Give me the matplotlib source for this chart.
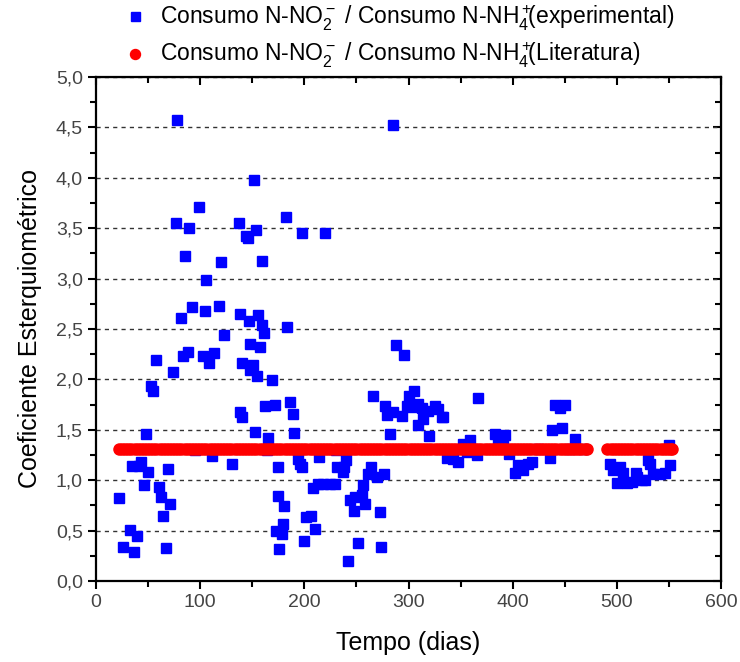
import matplotlib
matplotlib.use("Agg")
import matplotlib.pyplot as plt
from matplotlib.ticker import MultipleLocator, FuncFormatter

plt.rcParams['font.family'] = ['Liberation Sans', 'DejaVu Sans']
plt.rcParams['mathtext.fontset'] = 'custom'
plt.rcParams['mathtext.rm'] = 'Liberation Sans'
plt.rcParams['mathtext.it'] = 'Liberation Sans:italic'
plt.rcParams['mathtext.bf'] = 'Liberation Sans:bold'
plt.rcParams['mathtext.default'] = 'regular'

# Experimental stoichiometric coefficient (day, value)
dias_exp = [22.4, 32.6, 39, 25.6, 36, 67, 64.6, 71, 62.4, 60.5, 46, 50.2, 34.8, 42.9, 41, 69.1,
            48, 52.8, 55, 57.3, 74.2, 83.2, 88.6, 102.4, 108.8, 113.3, 123.2, 139.9, 148, 151,
            147.8, 154.2, 138.2, 140.5, 152.6, 95, 111, 130.8,
            78, 151.7, 98.9, 76.5, 89.6, 137, 144, 146, 153.3, 85.4, 120.3, 105.6, 92.5, 81.3,
            104.3, 117.8, 138, 146.9, 155.8, 159,
            285.4, 182, 197.4, 220.2, 159, 183.2,
            161.3, 157.8, 168.6, 162.2, 171.8, 186.2, 188.8, 165.4, 190, 266.2, 288, 295.7,
            277.4, 279, 285.4, 293.4, 300.8, 305.3, 298.2, 303, 309.4, 312.6, 314.2, 309.4,
            318.9, 325.4, 328.6, 331.9, 282.2, 319.7, 336.7, 163.8, 175, 194.2, 195.8, 197.5,
            214, 230.4, 240, 231.6, 236.8, 238, 208, 213.4, 218.2, 224.6, 229.4, 256.6, 261.4,
            263.7, 269.5, 276.8, 174.4, 180.5, 201.6, 206.4, 179.2, 172.8, 178.9, 210.2, 199.7,
            176, 241.6, 251.8, 273.6, 244, 248.6, 255, 258.2, 247.7, 272.6,
            367, 333.4, 343, 347.8, 352.6, 359, 355.8, 365.4, 383, 386.2, 392.6, 391, 396.5,
            402.2, 405.4, 410.2, 415, 418.3, 424.6, 435.8, 437.5, 447.7, 440.6, 445.4, 450.2,
            459.8, 467.8, 454.9,
            493.4, 496.6, 503, 499.9, 506.2, 509.5, 514.3, 519.1, 523.9, 530.3, 531.9, 535.1,
            541.4, 546.2, 551, 550.4, 518, 527]
coef_exp = [0.82, 0.51, 0.45, 0.34, 0.29, 0.33, 0.64, 0.76, 0.83, 0.93, 0.95, 1.08, 1.14, 1.18, 1.14, 1.11,
            1.46, 1.93, 1.88, 2.19, 2.07, 2.23, 2.27, 2.23, 2.16, 2.26, 2.44, 2.16, 2.35, 2.14,
            2.09, 2.03, 1.68, 1.63, 1.48, 1.30, 1.24, 1.16,
            4.57, 3.98, 3.71, 3.55, 3.50, 3.55, 3.42, 3.40, 3.48, 3.22, 3.16, 2.99, 2.72, 2.61,
            2.68, 2.73, 2.65, 2.58, 2.64, 3.17,
            4.52, 3.61, 3.45, 3.45, 2.54, 2.52,
            2.46, 2.32, 1.99, 1.74, 1.75, 1.78, 1.66, 1.42, 1.47, 1.84, 2.34, 2.24,
            1.74, 1.65, 1.68, 1.64, 1.84, 1.88, 1.74, 1.73, 1.76, 1.72, 1.61, 1.55,
            1.69, 1.74, 1.71, 1.63, 1.46, 1.44, 1.22, 1.30, 1.13, 1.21, 1.16, 1.13,
            1.23, 1.30, 1.20, 1.13, 1.08, 1.13, 0.92, 0.96, 0.96, 0.96, 0.96, 0.95, 1.06,
            1.13, 1.03, 1.06, 0.84, 0.74, 0.63, 0.64, 0.57, 0.50, 0.47, 0.52, 0.40,
            0.32, 0.20, 0.38, 0.34, 0.80, 0.83, 0.85, 0.76, 0.69, 0.68,
            1.82, 1.63, 1.21, 1.18, 1.36, 1.40, 1.28, 1.25, 1.46, 1.41, 1.45, 1.37, 1.26,
            1.07, 1.15, 1.10, 1.16, 1.18, 1.31, 1.22, 1.50, 1.52, 1.75, 1.72, 1.75,
            1.41, 1.31, 1.31,
            1.165, 1.10, 1.13, 0.97, 1.07, 0.97, 0.98, 1.03, 1.00, 1.20, 1.165, 1.06,
            1.06, 1.07, 1.15, 1.35, 1.07, 1.00]

# Literature value (constant) at sampling days
dias_lit = [22, 25, 28, 31, 34, 37, 40, 43, 46, 49, 52, 55, 58, 61, 64, 67, 70, 73, 76, 79,
            82, 85, 88, 91, 94, 97, 100, 103, 106, 109, 112, 115, 118, 121, 124, 127, 130,
            133, 136, 139, 142, 145, 148, 151, 154, 157, 160, 163, 166, 169, 172, 175, 178,
            181, 184, 187, 190, 193, 196, 199, 202, 205, 208, 211, 214, 217, 220, 223, 226,
            229, 232, 235, 238, 241, 244, 247, 250, 253, 256, 259, 262, 265, 268, 271, 274,
            277, 280, 283, 286, 289, 292, 295, 298, 301, 304, 307, 310, 313, 316, 319, 322,
            325, 328, 331, 334, 337, 340, 343, 346, 349, 352, 355, 358, 361, 364, 367, 370,
            373, 376, 379, 382, 385, 388, 391, 394, 397, 400, 403, 406, 409, 412, 415, 418,
            421, 424, 427, 430, 433, 436, 439, 442, 445, 448, 451, 454, 457, 460, 463, 466,
            469, 471,
            491, 494, 497, 500, 503, 506, 509, 512, 515, 518, 521, 524, 527, 530, 533, 536,
            539, 542, 545, 548, 551, 553]
coef_lit = [1.31] * len(dias_lit)

label_exp = r'Consumo N-NO$_2^-$ / Consumo N-NH$_4^+\!\!$(experimental)'
label_lit = r'Consumo N-NO$_2^-$ / Consumo N-NH$_4^+\!\!$(Literatura)'

fig = plt.figure(figsize=(7.4, 6.62), dpi=100)
ax = fig.add_axes([96/740, 1-581/662, (721-96)/740, (581-77)/662])

h1, = ax.plot(dias_exp, coef_exp, linestyle='none', marker='s', markersize=7.2,
              color='#0000FF', zorder=3, label=label_exp)
h2, = ax.plot(dias_lit, coef_lit, linestyle='none', marker='o', markersize=8.0,
              color='#FF0000', zorder=4, label=label_lit)

ax.set_xlim(0, 600)
ax.set_ylim(0, 5.0)
ax.xaxis.set_major_locator(MultipleLocator(100))
ax.xaxis.set_minor_locator(MultipleLocator(50))
ax.yaxis.set_major_locator(MultipleLocator(0.5))
ax.yaxis.set_minor_locator(MultipleLocator(0.25))
ax.yaxis.set_major_formatter(FuncFormatter(lambda v, p: f"{v:.1f}".replace('.', ',')))

ax.yaxis.grid(True, which='major', linestyle=(0, (3, 3)), color='#333333', linewidth=1.0)
ax.set_axisbelow(True)

for s in ax.spines.values():
    s.set_linewidth(1.6)
    s.set_color('black')

ax.tick_params(which='both', direction='out', bottom=True, left=True, top=False, right=False,
               width=1.5, labelsize=14, labelcolor='#444444')
ax.tick_params(which='major', length=6)
ax.tick_params(which='minor', length=4)
# inward ticks on top and right
ax2 = ax.secondary_xaxis('top')
ax2.xaxis.set_major_locator(MultipleLocator(100))
ax2.xaxis.set_minor_locator(MultipleLocator(50))
ax2.tick_params(which='both', direction='in', width=1.5, labeltop=False)
ax2.tick_params(which='major', length=6)
ax2.tick_params(which='minor', length=4)
ax3 = ax.secondary_yaxis('right')
ax3.yaxis.set_major_locator(MultipleLocator(0.5))
ax3.yaxis.set_minor_locator(MultipleLocator(0.25))
ax3.tick_params(which='both', direction='in', width=1.5, labelright=False)
ax3.tick_params(which='major', length=6)
ax3.tick_params(which='minor', length=4)

ax.set_xlabel('Tempo (dias)', fontsize=18, labelpad=14)
ax.set_ylabel('Coeficiente Esterquiométrico', fontsize=18, labelpad=10)

fig.legend(handles=[h1, h2], loc='upper left', bbox_to_anchor=(120/740, 1.0),
           frameon=False, fontsize=16.5, handletextpad=0.6, labelspacing=0.35,
           handlelength=1.0, borderaxespad=0.0, borderpad=0.15, markerscale=0.9)

fig.savefig('out.png', dpi=100)
